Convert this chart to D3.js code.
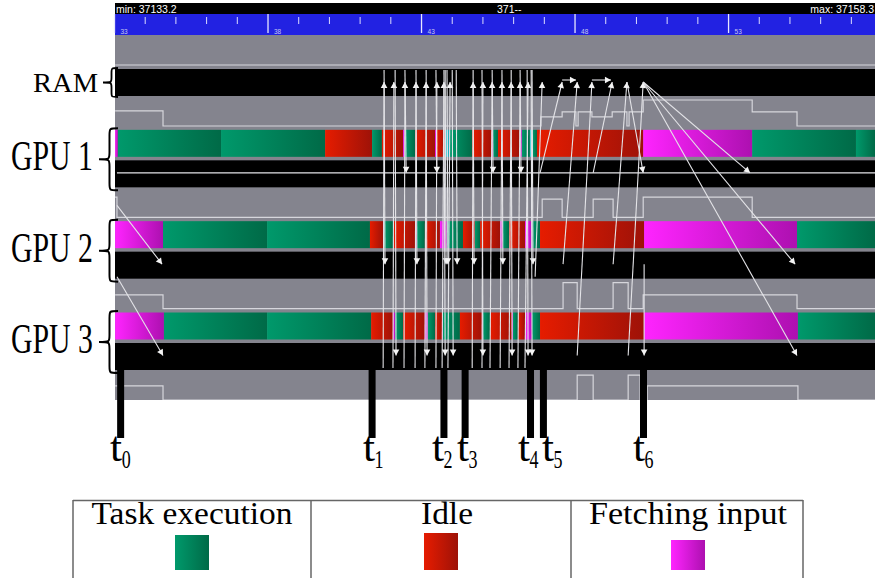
<!DOCTYPE html>
<html>
<head>
<meta charset="utf-8">
<script src="https://cdn.jsdelivr.net/npm/d3@7"></script>
<style>
  body { margin: 0; background: #fff; }
</style>
</head>
<body>
<svg id="chart" width="875" height="578"></svg>
<script>
// trace data (time in units of the ruler, i.e. 37133 -> 33)
const rows = ["RAM", "GPU 1", "GPU 2", "GPU 3"];
const rulerTicks = [33, 38, 43, 48, 53];
const headerTexts = ["min: 37133.2", "371--", "max: 37158.3"];
const markerTimes = [33.2, 41.39, 43.73, 44.42, 46.55, 46.97, 50.23];
const markerLabels = ["0", "1", "2", "3", "4", "5", "6"];
const legendLabels = ["Task execution", "Idle", "Fetching input"];
const legendStates = ["exec", "idle", "fetch"];

// [start, end, state]
const gpu1States = [
  [33.02, 33.11, "fetch"], [33.11, 36.47, "exec"], [36.47, 39.86, "exec"],
  [39.86, 41.39, "idle"], [41.39, 41.71, "exec"], [41.71, 42.40, "idle"],
  [42.40, 42.46, "fetch"], [42.46, 42.79, "exec"], [42.79, 43.44, "idle"],
  [43.44, 43.50, "fetch"], [43.50, 43.77, "idle"], [43.77, 43.93, "other"],
  [43.93, 44.65, "exec"], [44.65, 45.30, "idle"], [45.30, 45.33, "fetch"],
  [45.33, 45.49, "exec"], [45.49, 46.21, "idle"], [46.21, 46.27, "fetch"],
  [46.27, 46.53, "exec"], [46.53, 46.63, "other"], [46.63, 46.76, "exec"],
  [46.76, 50.22, "idle"], [50.22, 53.77, "fetch"], [53.77, 57.15, "exec"],
  [57.15, 57.77, "exec"]
];
const gpu2States = [
  [33.02, 34.58, "fetch"], [34.58, 37.97, "exec"], [37.97, 41.32, "exec"],
  [41.32, 41.75, "idle"], [41.75, 41.78, "fetch"], [41.78, 42.07, "exec"],
  [42.07, 42.79, "idle"], [42.79, 42.85, "fetch"], [42.85, 43.11, "exec"],
  [43.11, 43.60, "idle"], [43.60, 43.83, "fetch"], [43.83, 44.35, "exec"],
  [44.35, 44.74, "idle"], [44.74, 44.91, "exec"], [44.91, 45.56, "idle"],
  [45.56, 45.65, "fetch"], [45.65, 45.85, "exec"], [45.85, 46.37, "idle"],
  [46.37, 46.60, "fetch"], [46.60, 46.86, "exec"], [46.86, 50.25, "idle"],
  [50.25, 55.23, "fetch"], [55.23, 57.77, "exec"]
];
const gpu3States = [
  [33.02, 34.61, "fetch"], [34.61, 37.97, "exec"], [37.97, 41.36, "exec"],
  [41.36, 42.07, "idle"], [42.07, 42.14, "fetch"], [42.14, 42.40, "exec"],
  [42.40, 43.11, "idle"], [43.11, 43.21, "fetch"], [43.21, 43.44, "exec"],
  [43.44, 43.67, "idle"], [43.67, 43.70, "fetch"], [43.70, 44.25, "exec"],
  [44.25, 44.97, "idle"], [44.97, 45.00, "fetch"], [45.00, 45.23, "exec"],
  [45.23, 45.95, "idle"], [45.95, 45.98, "fetch"], [45.98, 46.14, "exec"],
  [46.14, 46.37, "idle"], [46.37, 46.60, "fetch"], [46.60, 46.86, "exec"],
  [46.86, 50.25, "idle"], [50.25, 55.26, "fetch"], [55.26, 57.77, "exec"]
];

// memory use lines, [time, level 0..1]
const memTop = [[33.02, 0]];
const memRam = [
  [33.02, 0.58], [34.58, 0], [46.89, 0.35], [47.58, 0.54], [48.03, 0], [48.10, 0.54],
  [48.55, 0.35], [49.21, 0.54], [49.69, 0], [49.76, 0.54], [50.22, 1], [53.77, 0.54], [55.23, 0]
];
const memGpu1 = [
  [33.02, 0.78], [33.08, 0], [46.93, 0.70], [47.58, 0], [48.59, 0.70], [49.24, 0],
  [50.22, 0.78], [53.77, 0]
];
const memGpu2 = [
  [33.02, 0.53], [34.58, 0], [47.61, 1], [48.07, 0], [49.24, 1], [49.73, 0],
  [50.22, 0.53], [55.23, 0]
];
const memGpu3 = [
  [33.02, 0.54], [34.58, 0], [48.07, 0.96], [48.59, 0], [49.73, 0.96], [50.12, 0],
  [50.35, 0.54], [55.26, 0]
];

// [from time, from row, anchor, to time, to row, anchor, head?]
const transfers = [
  [41.75, "GPU 3", "out", 41.78, "RAM", "in"],
  [42.07, "GPU 3", "out", 42.10, "RAM", "in"],
  [42.43, "GPU 3", "out", 42.46, "RAM", "in"],
  [42.79, "GPU 3", "out", 42.82, "RAM", "in"],
  [43.11, "GPU 3", "out", 43.15, "RAM", "in"],
  [43.47, "GPU 3", "out", 43.50, "RAM", "in"],
  [43.67, "GPU 3", "out", 43.73, "RAM", "in"],
  [43.86, "GPU 3", "out", 43.93, "RAM", "in"],
  [44.65, "GPU 3", "out", 44.68, "RAM", "in"],
  [44.97, "GPU 3", "out", 45.00, "RAM", "in"],
  [45.23, "GPU 3", "out", 45.30, "RAM", "in"],
  [45.56, "GPU 3", "out", 45.62, "RAM", "in"],
  [45.85, "GPU 3", "out", 45.92, "RAM", "in"],
  [46.14, "GPU 3", "out", 46.21, "RAM", "in"],
  [46.37, "GPU 3", "out", 46.47, "RAM", "in"],
  [46.70, "GPU 2", "out", 46.93, "RAM", "in"],
  [46.86, "GPU 1", "in", 47.58, "RAM", "in"],
  [47.61, "GPU 2", "in", 48.07, "RAM", "in"],
  [48.07, "GPU 3", "in", 48.55, "RAM", "in"],
  [48.59, "GPU 1", "in", 49.21, "RAM", "in"],
  [49.24, "GPU 2", "in", 49.69, "RAM", "in"],
  [49.73, "GPU 3", "in", 50.22, "RAM", "in"],
  [42.46, "RAM", "out", 42.50, "GPU 1", "in"],
  [43.47, "RAM", "out", 43.50, "GPU 1", "in"],
  [45.30, "RAM", "out", 45.33, "GPU 1", "in"],
  [46.21, "RAM", "out", 46.24, "GPU 1", "in"],
  [49.69, "RAM", "in", 50.22, "GPU 1", "in"],
  [50.22, "RAM", "in", 53.70, "GPU 1", "in"],
  [41.78, "RAM", "out", 41.81, "GPU 2", "in"],
  [42.82, "RAM", "out", 42.85, "GPU 2", "in"],
  [43.77, "RAM", "out", 43.80, "GPU 2", "in"],
  [43.83, "RAM", "out", 43.86, "GPU 2", "in"],
  [44.13, "RAM", "out", 44.16, "GPU 2", "in"],
  [44.68, "RAM", "out", 44.71, "GPU 2", "in"],
  [45.62, "RAM", "out", 45.65, "GPU 2", "in"],
  [46.60, "RAM", "out", 46.63, "GPU 2", "in"],
  [50.22, "RAM", "in", 55.17, "GPU 2", "in"],
  [42.14, "RAM", "out", 42.17, "GPU 3", "in"],
  [43.15, "RAM", "out", 43.18, "GPU 3", "in"],
  [43.73, "RAM", "out", 43.77, "GPU 3", "in"],
  [44.00, "RAM", "out", 44.03, "GPU 3", "in"],
  [44.97, "RAM", "out", 45.00, "GPU 3", "in"],
  [45.92, "RAM", "out", 45.95, "GPU 3", "in"],
  [46.44, "RAM", "out", 46.47, "GPU 3", "in"],
  [46.57, "RAM", "out", 46.60, "GPU 3", "in"],
  [50.22, "RAM", "in", 55.23, "GPU 3", "in"],
  [50.25, "GPU 2", "in", 50.25, "GPU 3", "in"],
  [33.08, "GPU 1", "mem", 34.55, "GPU 2", "in"],
  [33.08, "GPU 2", "out", 34.58, "GPU 3", "in"],
  [47.58, "RAM", "hi", 48.03, "RAM", "hi"],
  [48.55, "RAM", "hi", 49.17, "RAM", "hi"],
  [33.08, "GPU 1", "in", 57.77, "GPU 1", "in", false]
];

const svg = d3.select("#chart");
const serif = "'Liberation Serif', 'DejaVu Serif', serif";
const sans = "'Liberation Sans', Arial, sans-serif";

const x = d3.scaleLinear().domain([33, 57.77]).range([114.5, 875]);
const rowY = d3.scalePoint().domain(rows).range([69, 343]);
const barH = 27;

// gradients, ViTE style (light left, dark right)
const stateColors = {
  exec: ["#00996b", "#006a47"],
  idle: ["#e61c00", "#9e1208"],
  fetch: ["#ff24ff", "#ad10b0"],
  other: ["#38dce6", "#1a9aaa"]
};
const defs = svg.append("defs");
Object.entries(stateColors).forEach(([k, c]) => {
  const g = defs.append("linearGradient").attr("id", "grad-" + k);
  g.append("stop").attr("offset", "0%").attr("stop-color", c[0]);
  g.append("stop").attr("offset", "100%").attr("stop-color", c[1]);
});
defs.append("clipPath").attr("id", "trace-clip")
  .append("rect").attr("x", 115).attr("y", 0).attr("width", 760).attr("height", 400);

// header + ruler
svg.append("rect").attr("x", 115).attr("y", 3).attr("width", 760).attr("height", 11).attr("fill", "#000");
svg.append("rect").attr("x", 115).attr("y", 14).attr("width", 760).attr("height", 21).attr("fill", "#2222e2");
svg.selectAll(".hdr").data(headerTexts).join("text")
  .attr("x", (d, i) => [116, 497, 874][i])
  .attr("y", 12.5)
  .attr("text-anchor", (d, i) => i === 2 ? "end" : "start")
  .attr("fill", "#fff").attr("font-family", sans).attr("font-size", 10.5)
  .text(d => d);

const minorTicks = d3.range(34, 58).filter(v => !rulerTicks.includes(v));
svg.append("g").selectAll("line").data(minorTicks).join("line")
  .attr("x1", d => x(d)).attr("x2", d => x(d)).attr("y1", 17).attr("y2", 24)
  .attr("stroke", "#dcdcff").attr("stroke-width", 1);
svg.append("g").selectAll("line").data(rulerTicks).join("line")
  .attr("x1", d => x(d)).attr("x2", d => x(d)).attr("y1", 14).attr("y2", 33)
  .attr("stroke", "#e8e8ff").attr("stroke-width", 1.3);
svg.append("g").selectAll("text").data(rulerTicks).join("text")
  .attr("x", d => x(d) + 6).attr("y", 33.5)
  .attr("fill", "#c8c8f0").attr("font-family", sans).attr("font-size", 6.5)
  .text(d => d);

// trace body
const trace = svg.append("g").attr("clip-path", "url(#trace-clip)");
trace.append("rect").attr("x", 115).attr("y", 35).attr("width", 760).attr("height", 365).attr("fill", "#84848e");

// link rows (black)
trace.selectAll(".link").data(rows).join("rect")
  .attr("x", 115).attr("y", d => rowY(d)).attr("width", 760).attr("height", barH)
  .attr("fill", "#000");

// memory lines
const memSeries = [
  { top: 35, data: memTop },
  { top: rowY("RAM") + barH, data: memRam },
  { top: rowY("GPU 1") + barH, data: memGpu1 },
  { top: rowY("GPU 2") + barH, data: memGpu2 },
  { top: rowY("GPU 3") + barH, data: memGpu3 }
];
memSeries.forEach(s => {
  const lv = d3.scaleLinear().domain([0, 1]).range([s.top + 30, s.top + 4]);
  const pts = s.data.concat([[x.domain()[1], s.data[s.data.length - 1][1]]]);
  trace.append("path")
    .attr("d", d3.line().x(d => x(d[0])).y(d => lv(d[1])).curve(d3.curveStepAfter)(pts))
    .attr("fill", "none").attr("stroke", "#d6d6dc").attr("stroke-width", 1.2);
});

// state bars
[["GPU 1", gpu1States], ["GPU 2", gpu2States], ["GPU 3", gpu3States]].forEach(([r, states]) => {
  trace.append("g").selectAll("rect").data(states).join("rect")
    .attr("x", d => x(d[0])).attr("y", rowY(r) - 30.5)
    .attr("width", d => Math.max(0.8, x(d[1]) - x(d[0])))
    .attr("height", barH)
    .attr("fill", d => `url(#grad-${d[2]})`);
});

// transfers (arrows)
function anchorY(r, a) {
  const b = rowY(r);
  if (a === "in") return r === "RAM" ? b + 13 : b + 12.5;
  if (a === "out") return r === "RAM" ? b + 1 : b + 25;
  if (a === "mem") return b + 45;
  return b + 11;
}
const arrows = trace.append("g");
transfers.forEach(t => {
  const x0 = x(t[0]), y0 = anchorY(t[1], t[2]);
  const x1 = x(t[3]), y1 = anchorY(t[4], t[5]);
  arrows.append("line")
    .attr("x1", x0).attr("y1", y0).attr("x2", x1).attr("y2", y1)
    .attr("stroke", "#e4e4e8").attr("stroke-width", 1.1);
  if (t[6] === false) return;
  const ang = Math.atan2(y1 - y0, x1 - x0);
  const L = 6, W = 3.3;
  const bx = x1 - L * Math.cos(ang), by = y1 - L * Math.sin(ang);
  const px = -Math.sin(ang) * W, py = Math.cos(ang) * W;
  arrows.append("polygon")
    .attr("points", `${x1},${y1} ${bx + px},${by + py} ${bx - px},${by - py}`)
    .attr("fill", "#f4f4f4");
});

// time markers
const markerTop = rowY("GPU 3") + barH;
const labelShift = [-10.5, -9, -12, -8, -12.5, -1.5, -10.5]; // labels nudged apart where lines are close
svg.append("g").selectAll("rect").data(markerTimes).join("rect")
  .attr("x", d => x(d) - 3.5).attr("y", markerTop)
  .attr("width", 7).attr("height", 438 - markerTop)
  .attr("fill", "#000");
const mlab = svg.append("g").selectAll("g").data(markerTimes).join("g");
mlab.append("text")
  .attr("x", (d, i) => x(d) + labelShift[i]).attr("y", 461)
  .attr("font-family", serif).attr("font-size", 42)
  .attr("textLength", 12).attr("lengthAdjust", "spacingAndGlyphs")
  .text("t");
mlab.append("text")
  .attr("x", (d, i) => x(d) + labelShift[i] + 11.5).attr("y", 468)
  .attr("font-family", serif).attr("font-size", 25)
  .attr("textLength", 9).attr("lengthAdjust", "spacingAndGlyphs")
  .text((d, i) => markerLabels[i]);

// row labels and braces
function brace(xr, xl, y0, y1) {
  const xm = (xr + xl) / 2 + 1, yc = (y0 + y1) / 2, r = Math.min(7, (y1 - y0) / 6);
  return `M${xr},${y0} C${xm},${y0} ${xm},${y0} ${xm},${y0 + r} L${xm},${yc - r} ` +
    `C${xm},${yc} ${xm},${yc} ${xl},${yc} C${xm},${yc} ${xm},${yc} ${xm},${yc + r} ` +
    `L${xm},${y1 - r} C${xm},${y1} ${xm},${y1} ${xr},${y1}`;
}
rows.forEach(r => {
  const b = rowY(r);
  if (r === "RAM") {
    svg.append("path").attr("d", brace(118, 103, b - 1, b + 28))
      .attr("fill", "none").attr("stroke", "#000").attr("stroke-width", 1.8);
    svg.append("text").attr("x", 33).attr("y", b + 23)
      .attr("font-family", serif).attr("font-size", 27)
      .attr("textLength", 65).attr("lengthAdjust", "spacingAndGlyphs").text(r);
  } else {
    svg.append("path").attr("d", brace(118, 99, b - 32, b + 30))
      .attr("fill", "none").attr("stroke", "#000").attr("stroke-width", 2);
    svg.append("text").attr("x", 11).attr("y", b + 10)
      .attr("font-family", serif).attr("font-size", 42)
      .attr("textLength", 82).attr("lengthAdjust", "spacingAndGlyphs").text(r);
  }
});

// legend table
const colEdges = [73, 311, 571, 803];
const legendCenters = [192, 447, 688];
const swatchCenters = [192, 441, 688];
const swatchTops = [535, 533, 540];
const lg = svg.append("g");
lg.append("line").attr("x1", 73).attr("x2", 803).attr("y1", 500.5).attr("y2", 500.5)
  .attr("stroke", "#666").attr("stroke-width", 1.5);
lg.selectAll(".col").data(colEdges).join("line")
  .attr("x1", d => d).attr("x2", d => d).attr("y1", 500).attr("y2", 578)
  .attr("stroke", "#666").attr("stroke-width", 1.5);
lg.selectAll(".lt").data(legendLabels).join("text")
  .attr("x", (d, i) => legendCenters[i]).attr("y", 524)
  .attr("text-anchor", "middle")
  .attr("font-family", serif).attr("font-size", 32)
  .attr("textLength", (d, i) => [201, 52, 198][i]).attr("lengthAdjust", "spacingAndGlyphs")
  .text(d => d);
lg.selectAll(".sw").data(legendStates).join("rect")
  .attr("x", (d, i) => swatchCenters[i] - 17).attr("y", (d, i) => swatchTops[i])
  .attr("width", 34).attr("height", (d, i) => 570 - swatchTops[i])
  .attr("fill", d => `url(#grad-${d})`);
</script>
</body>
</html>
